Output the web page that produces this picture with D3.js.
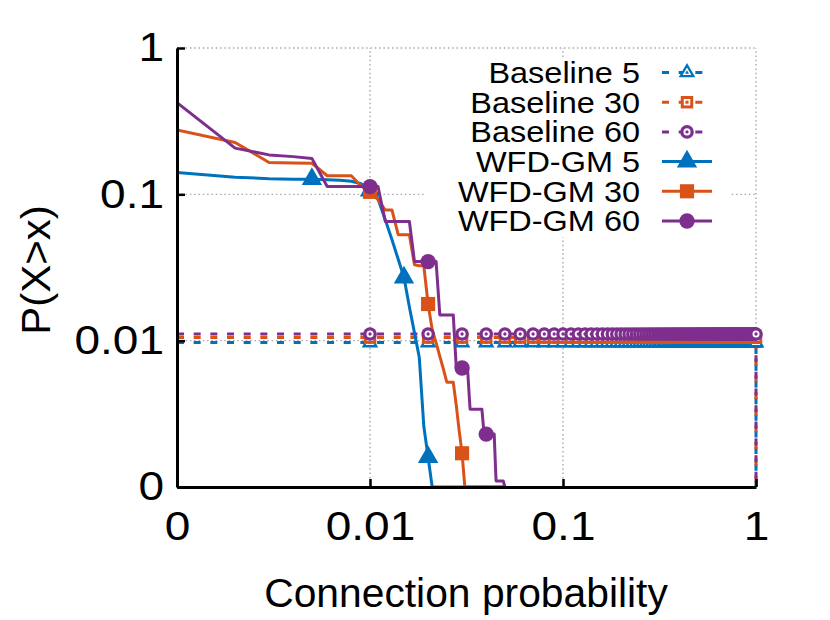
<!DOCTYPE html>
<html><head><meta charset="utf-8">
<script src="https://cdn.jsdelivr.net/npm/d3@7"></script>
<style>
body{margin:0;background:#fff}
svg{display:block}
text{font-family:"Liberation Sans",Arial,Helvetica,sans-serif;fill:#000}
</style>
</head><body><svg id="c" width="830" height="620"></svg>
<script>
// ---------- data ----------
const xTicks = [0.001, 0.01, 0.1, 1];
const xTickLabels = ["0", "0.01", "0.1", "1"];
const yTicks = [0.001, 0.01, 0.1, 1];
const yTickLabels = ["0", "0.01", "0.1", "1"];
const seriesNames = ["Baseline 5", "Baseline 30", "Baseline 60", "WFD-GM 5", "WFD-GM 30", "WFD-GM 60"];
const xLabel = "Connection probability";
const yLabel = "P(X>x)";

const wfdX = [0.001,0.002,0.003,0.004,0.005,0.006,0.007,0.008,0.009,0.010,
              0.011,0.012,0.013,0.014,0.015,0.016,0.017,0.018,0.019,0.020,
              0.021,0.022,0.023,0.024,0.025,0.026,0.027,0.028,0.029,0.030,
              0.031,0.032,0.033,0.034,0.035,0.036,0.037,0.038,0.039,0.040,
              0.041,0.042,0.043,0.044,0.045,0.046,0.047,0.048,0.049,0.050];
const wfd5  = [0.141,0.131,0.128,0.127,0.127,0.126,0.125,0.123,0.118,0.106,
               0.093,0.067,0.049,0.036,0.027,0.017,0.0113,0.0077,0.0026,0.0016,
               0,0,0,0,0,0,0,0,0,0, 0,0,0,0,0,0,0,0,0,0, 0,0,0,0,0,0,0,0,0,0];
const wfd30 = [0.275,0.226,0.165,0.164,0.163,0.134,0.134,0.134,0.114,0.104,
               0.092,0.078,0.078,0.053,0.053,0.053,0.033,0.0325,0.0325,0.0178,
               0.0119,0.0097,0.0078,0.0064,0.0052,0.0052,0.0052,0.0036,0.0024,0.0017,
               0,0,0,0,0,0,0,0,0,0, 0,0,0,0,0,0,0,0,0,0];
const wfd60 = [0.423,0.207,0.186,0.181,0.176,0.113,0.113,0.113,0.113,0.113,
               0.113,0.0652,0.0652,0.0652,0.0652,0.0652,0.0347,0.0347,0.0347,0.0347,
               0.0347,0.0347,0.015,0.015,0.015,0.015,0.015,0.0065,0.0065,0.0065,
               0.0065,0.0065,0.0034,0.0034,0.0034,0.0034,0.0034,0.0034,0.0023,0.0023,
               0.0023,0.0023,0.0023,0.0023,0.0011,0.0011,0.0011,0.0011,0.0011,0];
const wfd5Marks  = [0.005, 0.010, 0.015, 0.020];
const wfd30Marks = [0.010, 0.020, 0.030];
const wfd60Marks = [0.010, 0.020, 0.030, 0.040];

const baselineX  = [0.001, 1, 1];
const baseline5  = [0.0097, 0.0097, 0];
const baseline30 = [0.0105, 0.0105, 0];
const baseline60 = [0.0111, 0.0111, 0];
const baselineMarks = [0.01,0.02,0.03,0.04,0.05,0.06,0.07,0.08,0.09,0.10,
  0.11,0.12,0.13,0.14,0.15,0.16,0.17,0.18,0.19,0.20,
  0.21,0.22,0.23,0.24,0.25,0.26,0.27,0.28,0.29,0.30,
  0.31,0.32,0.33,0.34,0.35,0.36,0.37,0.38,0.39,0.40,
  0.41,0.42,0.43,0.44,0.45,0.46,0.47,0.48,0.49,0.50,
  0.51,0.52,0.53,0.54,0.55,0.56,0.57,0.58,0.59,0.60,
  0.61,0.62,0.63,0.64,0.65,0.66,0.67,0.68,0.69,0.70,
  0.71,0.72,0.73,0.74,0.75,0.76,0.77,0.78,0.79,0.80,
  0.81,0.82,0.83,0.84,0.85,0.86,0.87,0.88,0.89,0.90,
  0.91,0.92,0.93,0.94,0.95,0.96,0.97,0.98,0.99,1.00];

// ---------- layout / style ----------
const C = {blue:"#0072BD", orange:"#D95319", purple:"#7E2F8E"};
const svg = d3.select("#c");
const x = d3.scaleLog().domain([0.001, 1]).range([177, 756]);
const y = d3.scaleLog().domain([0.001, 1]).range([487, 48]);
const yPos = v => v > 0 ? y(v) : y.range()[0];

svg.append("defs").append("clipPath").attr("id","clip")
  .append("rect").attr("x",x.range()[0]).attr("y",y.range()[1]-4)
  .attr("width",x.range()[1]-x.range()[0]+4).attr("height",y.range()[0]-y.range()[1]+4);

// grid
const grid = svg.append("g").attr("stroke","#a8a8a8").attr("stroke-width",1.4).attr("stroke-dasharray","1.5,2.8");
xTicks.slice(1).forEach(t => grid.append("line").attr("x1",x(t)).attr("x2",x(t)).attr("y1",y.range()[0]).attr("y2",y.range()[1]));
yTicks.slice(1).forEach(t => grid.append("line").attr("y1",y(t)).attr("y2",y(t)).attr("x1",x.range()[0]).attr("x2",x.range()[1]));

// legend background (opaque key)
svg.append("rect").attr("x",426).attr("y",57).attr("width",305).attr("height",180).attr("fill","#fff");

// markers
const symType = {tri:d3.symbolTriangle, sq:d3.symbolSquare, circ:d3.symbolCircle};
function marker(g, type, cx, cy, color, filled) {
  const area = filled ? {tri:180, sq:200, circ:185}[type] : {tri:120, sq:155, circ:145}[type];
  const sym = a => d3.symbol().type(symType[type]).size(a)();
  const gg = g.append("g").attr("transform",`translate(${cx},${cy})`);
  gg.append("path").attr("d",sym(area)).attr("fill",color);
  if (!filled) {
    gg.append("path").attr("d",sym(area*0.27)).attr("fill","#fff");
    gg.append("path").attr("d",sym(area*0.06)).attr("fill",color);
  }
}

const plot = svg.append("g").attr("clip-path","url(#clip)");
const line = d3.line().x(d => x(d[0])).y(d => yPos(d[1]));

// baselines
const baselines = [
  {vals:baseline5, color:C.blue, type:"tri"},
  {vals:baseline30, color:C.orange, type:"sq"},
  {vals:baseline60, color:C.purple, type:"circ"}];
baselines.forEach(s => {
  plot.append("path").attr("d", line(baselineX.map((xx,i)=>[xx, s.vals[i]])))
    .attr("fill","none").attr("stroke",s.color).attr("stroke-width",3)
    .attr("stroke-dasharray","7,9.67");
  const mg = svg.append("g");
  baselineMarks.forEach(m => marker(mg, s.type, x(m), yPos(s.vals[0]), s.color, false));
});

// WFD-GM
const wfds = [
  {vals:wfd5, marks:wfd5Marks, color:C.blue, type:"tri"},
  {vals:wfd30, marks:wfd30Marks, color:C.orange, type:"sq"},
  {vals:wfd60, marks:wfd60Marks, color:C.purple, type:"circ"}];
wfds.forEach(s => {
  plot.append("path").attr("d", line(wfdX.map((xx,i)=>[xx, s.vals[i]])))
    .attr("fill","none").attr("stroke",s.color).attr("stroke-width",3)
    .attr("stroke-linejoin","round");
  const mg = svg.append("g");
  s.marks.forEach(m => {
    const i = wfdX.findIndex(v => Math.abs(v-m) < 1e-9);
    marker(mg, s.type, x(m), yPos(s.vals[i]), s.color, true);
  });
});

// axes
const fs = 40, sx = 1.15;
const ax = svg.append("g").attr("transform",`translate(0,${y.range()[0]})`)
  .call(d3.axisBottom(x).tickValues(xTicks).tickFormat((d,i)=>xTickLabels[i]).tickSize(-8).tickSizeOuter(0).tickPadding(25));
const ay = svg.append("g").attr("transform",`translate(${x.range()[0]},0)`)
  .call(d3.axisLeft(y).tickValues(yTicks).tickFormat((d,i)=>yTickLabels[i]).tickSize(-8).tickSizeOuter(0).tickPadding(13));
[ax, ay].forEach(a => {
  a.select(".domain").attr("stroke","#000").attr("stroke-width",3);
  a.selectAll(".tick line").attr("stroke","#000").attr("stroke-width",2.5);
  a.selectAll(".tick text").attr("font-size",fs).attr("font-family",'"Liberation Sans",Arial,sans-serif').attr("fill","#000");
});
ax.selectAll(".tick text").attr("transform",`scale(${sx},1)`);
ay.selectAll(".tick text").attr("x",-13/sx).attr("transform",`scale(${sx},1)`);

svg.append("text").attr("transform","translate(466,607) scale(1.02,1)").attr("text-anchor","middle").attr("font-size",40).text(xLabel);
svg.append("text").attr("transform","translate(50,270) rotate(-90) scale(1.05,1)").attr("text-anchor","middle").attr("font-size",40).text(yLabel);

// legend
const leg = svg.append("g");
const legTypes = [["tri",C.blue,false],["sq",C.orange,false],["circ",C.purple,false],["tri",C.blue,true],["sq",C.orange,true],["circ",C.purple,true]];
seriesNames.forEach((n,i) => {
  const yy = 72.5 + i*29.7;
  leg.append("text").attr("transform",`translate(640,${yy}) scale(1.12,1)`).attr("dy","0.36em")
    .attr("text-anchor","end").attr("font-size",29).text(n);
  const [t,c,f] = legTypes[i];
  leg.append("line").attr("x1",662).attr("x2",712).attr("y1",yy).attr("y2",yy)
    .attr("stroke",c).attr("stroke-width",3).attr("stroke-dasharray", f ? null : "7,9.67");
  marker(leg, t, 687, yy, c, f);
});
</script>
</body></html>
